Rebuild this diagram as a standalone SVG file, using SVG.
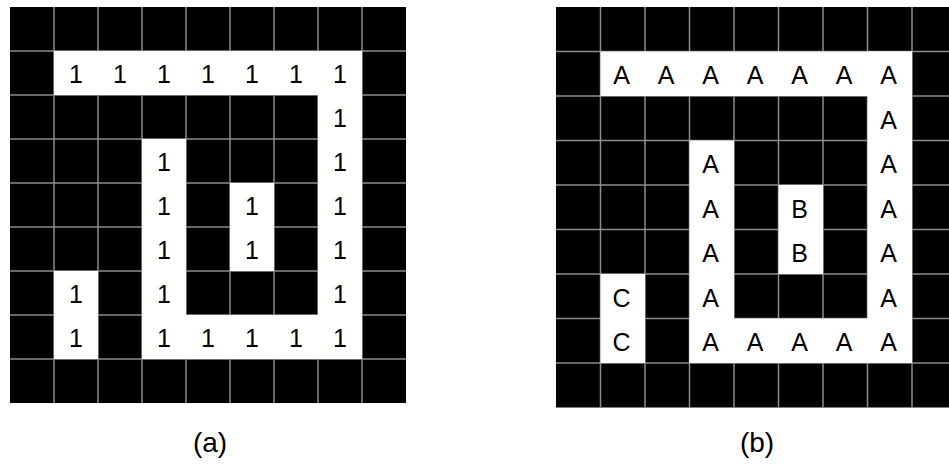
<svg xmlns="http://www.w3.org/2000/svg" width="949" height="466" viewBox="0 0 949 466">
<style>
.bg{fill:#000}
.gl{stroke:#8c8c8c;stroke-width:1.5}
.w{fill:#fff}
.t{font-family:"Liberation Sans",Arial,sans-serif;font-size:25px;fill:#000;text-anchor:middle}
.cap{font-family:"Liberation Sans",Arial,sans-serif;font-size:28px;fill:#000;text-anchor:middle}
</style>
<g id="grid-a">
<rect class="bg" x="10" y="7" width="396" height="396"/>
<path class="gl" d="M54,7V403M98,7V403M142,7V403M186,7V403M230,7V403M274,7V403M318,7V403M362,7V403M10,51H406M10,95H406M10,139H406M10,183H406M10,227H406M10,271H406M10,315H406M10,359H406"/>
<rect class="w" x="54" y="51" width="308" height="44"/>
<rect class="w" x="318" y="51" width="44" height="308"/>
<rect class="w" x="142" y="139" width="44" height="220"/>
<rect class="w" x="230" y="183" width="44" height="88"/>
<rect class="w" x="54" y="271" width="44" height="88"/>
<rect class="w" x="142" y="315" width="220" height="44"/>
<g class="t">
<text x="76" y="83">1</text><text x="120" y="83">1</text><text x="164" y="83">1</text><text x="208" y="83">1</text><text x="252" y="83">1</text><text x="296" y="83">1</text><text x="340" y="83">1</text>
<text x="340" y="127">1</text>
<text x="164" y="171">1</text><text x="340" y="171">1</text>
<text x="164" y="215">1</text><text x="252" y="215">1</text><text x="340" y="215">1</text>
<text x="164" y="259">1</text><text x="252" y="259">1</text><text x="340" y="259">1</text>
<text x="76" y="303">1</text><text x="164" y="303">1</text><text x="340" y="303">1</text>
<text x="76" y="347">1</text><text x="164" y="347">1</text><text x="208" y="347">1</text><text x="252" y="347">1</text><text x="296" y="347">1</text><text x="340" y="347">1</text>
</g>
<text class="cap" x="210" y="452">(a)</text>
</g>
<g id="grid-b">
<rect class="bg" x="556" y="7" width="400.5" height="400.5"/>
<path class="gl" d="M600.5,7V407.5M645,7V407.5M689.5,7V407.5M734,7V407.5M778.5,7V407.5M823,7V407.5M867.5,7V407.5M912,7V407.5M556,51.5H956M556,96H956M556,140.5H956M556,185H956M556,229.5H956M556,274H956M556,318.5H956M556,363H956"/>
<rect class="w" x="600.5" y="51.5" width="311.5" height="44.5"/>
<rect class="w" x="867.5" y="51.5" width="44.5" height="311.5"/>
<rect class="w" x="689.5" y="140.5" width="44.5" height="222.5"/>
<rect class="w" x="778.5" y="185" width="44.5" height="89"/>
<rect class="w" x="600.5" y="274" width="44.5" height="89"/>
<rect class="w" x="689.5" y="318.5" width="222.5" height="44.5"/>
<g class="t">
<text x="621.5" y="84">A</text><text x="666" y="84">A</text><text x="710.5" y="84">A</text><text x="755" y="84">A</text><text x="799.5" y="84">A</text><text x="844" y="84">A</text><text x="888.5" y="84">A</text>
<text x="888.5" y="128.5">A</text>
<text x="710.5" y="173">A</text><text x="888.5" y="173">A</text>
<text x="710.5" y="217.5">A</text><text x="799.5" y="217.5">B</text><text x="888.5" y="217.5">A</text>
<text x="710.5" y="262">A</text><text x="799.5" y="262">B</text><text x="888.5" y="262">A</text>
<text x="621.5" y="306.5">C</text><text x="710.5" y="306.5">A</text><text x="888.5" y="306.5">A</text>
<text x="621.5" y="351">C</text><text x="710.5" y="351">A</text><text x="755" y="351">A</text><text x="799.5" y="351">A</text><text x="844" y="351">A</text><text x="888.5" y="351">A</text>
</g>
<text class="cap" x="757" y="452">(b)</text>
</g>
</svg>
